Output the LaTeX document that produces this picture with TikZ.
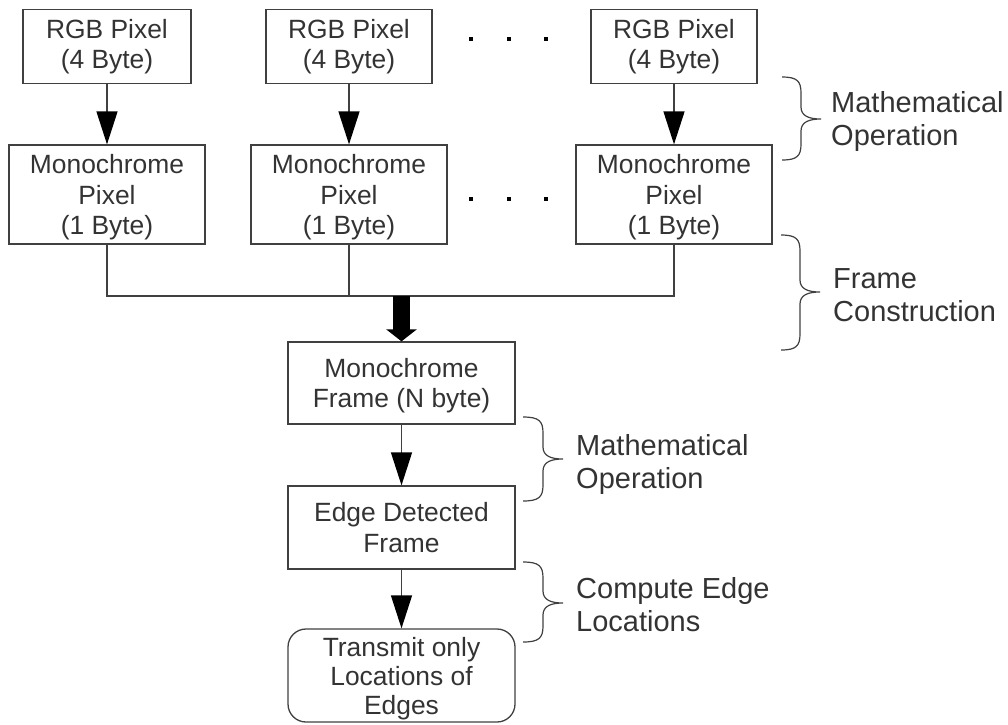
\documentclass[tikz,border=0pt]{standalone}
\usepackage{fontspec}
\setmainfont{Liberation Sans}
\usetikzlibrary{arrows.meta}
\definecolor{txt}{HTML}{333333}
\definecolor{ln}{HTML}{404040}
\newcommand\mybrace[5]{% x0, top, mid, bottom, x of vertical
  \draw[bracestyle] (#1,#2) .. controls ({#5-4},#2) and (#5,{#2+4}) .. (#5,{#2+16})
    -- (#5,{#3-12}) .. controls (#5,{#3-3}) and ({#5+8},#3) .. ({#5+20},#3)
    .. controls ({#5+8},#3) and (#5,{#3+3}) .. (#5,{#3+12})
    -- (#5,{#4-16}) .. controls (#5,{#4-4}) and ({#5-4},#4) .. (#1,#4);}
\begin{document}
\begin{tikzpicture}[x=1pt,y=-1pt,
  box/.style={draw=ln, line width=1.3pt, text=txt, inner sep=0pt, align=center,
    font=\fontsize{26.4}{30.5}\selectfont},
  lbl/.style={text=txt, anchor=west, align=left, inner sep=0pt,
    font=\fontsize{29}{33}\selectfont},
  arr/.style={draw=ln, line width=1.3pt, -{Triangle[length=33pt,width=21pt,color=black]}},
  bus/.style={draw=ln, line width=1.3pt},
  bracestyle/.style={draw=ln, line width=1.2pt},
  dotmark/.style={fill=black}]
\useasboundingbox (0,0) rectangle (1008,724);
% top row
\node[box, minimum width=168pt, minimum height=74pt] (rgb1) at (107,46.5) {RGB Pixel\\(4 Byte)};
\node[box, minimum width=166pt, minimum height=74pt] (rgb2) at (349,46.5) {RGB Pixel\\(4 Byte)};
\node[box, minimum width=166pt, minimum height=74pt] (rgb3) at (674,46.5) {RGB Pixel\\(4 Byte)};
% mono row
\node[box, minimum width=196pt, minimum height=99pt, text depth=0pt] (mono1) at (107,194.5) {Monochrome\\Pixel\\(1 Byte)};
\node[box, minimum width=196pt, minimum height=99pt, text depth=0pt] (mono2) at (349,194.5) {Monochrome\\Pixel\\(1 Byte)};
\node[box, minimum width=196pt, minimum height=99pt, text depth=0pt] (mono3) at (674,194.5) {Monochrome\\Pixel\\(1 Byte)};
% column
\node[box, minimum width=227pt, minimum height=82pt, text depth=0pt] (frame) at (401.5,383) {Monochrome\\Frame (N byte)};
\node[box, minimum width=227pt, minimum height=83pt] (edge) at (401.5,527.5) {Edge Detected\\Frame};
\node[box, rounded corners=18pt, minimum width=227pt, minimum height=93pt, text depth=0pt,
  font=\fontsize{26.4}{29}\selectfont] (trans) at (401.5,675.5) {Transmit only\\Locations of\\Edges};
% dots
\foreach \x in {471,509,546}{
  \fill[dotmark] ({\x-1.8},{39-1.8}) rectangle ({\x+1.8},{39+1.8});
  \fill[dotmark] ({\x-1.8},{199-1.8}) rectangle ({\x+1.8},{199+1.8});
}
% arrows
\draw[arr] (rgb1) -- (mono1);
\draw[arr] (rgb2) -- (mono2);
\draw[arr] (rgb3) -- (mono3);
\draw[arr] (frame) -- (edge);
\draw[arr] (edge) -- (trans);
% bus
\coordinate (join) at (401.5,296);
\draw[bus] (mono1.south) -- (mono1.south |- join) -- (mono3.south |- join) -- (mono3.south);
\draw[bus] (mono2.south) -- (mono2.south |- join);
\draw[line width=17pt, -{Triangle[length=12pt,width=30pt]}] (join) -- (frame.north);
% braces
\mybrace{782}{77}{119}{160}{801}
\mybrace{781}{235}{292}{350}{800}
\mybrace{523}{417}{459}{501}{543}
\mybrace{523}{562}{603}{642}{543}
% labels
\node[lbl] (l1) at (831,121) {Mathematical\\Operation};
\node[lbl] (l2) at (833,295) {Frame\\Construction};
\node[lbl] (l3) at (576,464) {Mathematical\\Operation};
\node[lbl] (l4) at (576,605) {Compute Edge\\Locations};
\end{tikzpicture}
\end{document}
